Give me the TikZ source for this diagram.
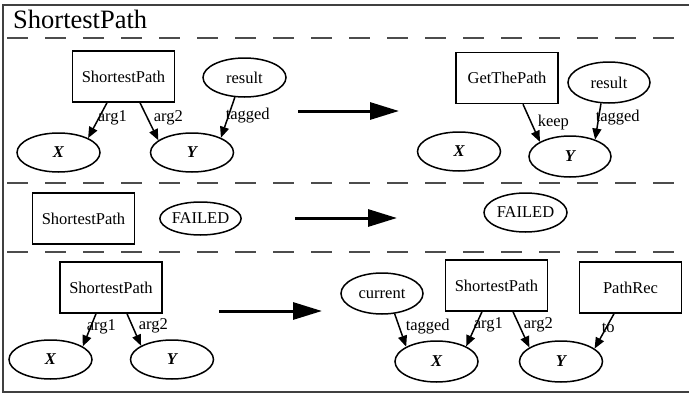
\documentclass[tikz,border=0pt]{standalone}
\usepackage{fontspec}
\setmainfont{Liberation Serif}
\newfontfamily\diagserif{Liberation Serif}
\usetikzlibrary{shapes.geometric,arrows.meta}

\begin{document}
\begin{tikzpicture}[x=1pt,y=-1pt,
  txt/.style={font=\diagserif\fontsize{16.5}{18}\selectfont},
  box/.style={txt, draw, rectangle, line width=1.5pt, minimum width=102pt, minimum height=51pt, inner sep=0pt},
  ell/.style={txt, draw, ellipse, line width=1.5pt, minimum width=83pt, minimum height=39pt, inner sep=0pt},
  var/.style={ell, font=\diagserif\fontsize{16.5}{18}\selectfont\bfseries\itshape},
  edge/.style={line width=1.5pt, -{Triangle[length=11pt,width=9pt]}},
  elabel/.style={txt, anchor=west, inner sep=0pt},
  bigarrow/.style={line width=3pt, -{Triangle[length=29pt,width=17pt]}},
  sep/.style={line width=1.4pt, draw=black!70, dash pattern=on 21pt off 17pt, dash phase=34pt},
  frame/.style={line width=2pt, draw=black!75}]

\useasboundingbox (0,0) rectangle (689,394);

% outer frame (open on the right) and the title
\draw[frame] (689,5) -- (3,5) -- (3,392) -- (689,392);
\node[font=\diagserif\fontsize{26.5}{30}\selectfont, anchor=base west, inner sep=0pt] (title) at (13,28) {ShortestPath};

% section separators
\draw[sep] (3,38) -- (689,38);
\draw[sep] (3,183) -- (689,183);
\draw[sep] (3,252) -- (689,252);

% ---------- rule 1 ----------
\node[box] (sp1) at (123.5,76.5) {ShortestPath};
\node[ell] (res1) at (244.5,77.5) {result};
\node[var] (x1) at (58.5,152.5) {X};
\node[var] (y1) at (192,152.5) {Y};
\draw[edge] ([xshift=-16.5pt]sp1.south) -- (x1.26) node[elabel] at (97,118) {arg1};
\draw[edge] ([xshift=16.5pt]sp1.south) -- (y1.160) node[elabel] at (153,118) {arg2};
\draw[edge] (res1.244) -- (y1.27) node[elabel] at (225,116) {tagged};

\coordinate (a1s) at (298,111);
\coordinate (a1e) at (399,111);
\draw[bigarrow] (a1s) -- (a1e);

\node[box] (gtp) at (507,78) {GetThePath};
\node[ell, minimum width=82pt, minimum height=41pt] (res2) at (609,82.5) {result};
\node[var] (x2) at (459,151.5) {X};
\node[var, minimum width=82pt, minimum height=41pt] (y2) at (570,156.5) {Y};
\draw[edge] ([xshift=16pt]gtp.south) -- (y2.154) node[elabel] at (537,123) {keep};
\draw[edge] (res2.249) -- (y2.34) node[elabel] at (595,118) {tagged};

% ---------- rule 2 ----------
\node[box] (sp2) at (83.5,218.5) {ShortestPath};
\node[ell, minimum width=81pt, minimum height=33pt] (f1) at (200.5,218.5) {FAILED};

\coordinate (a2s) at (295,218);
\coordinate (a2e) at (397,218);
\draw[bigarrow] (a2s) -- (a2e);

\node[ell] (f2) at (525.5,212.5) {FAILED};

% ---------- rule 3 ----------
\node[box] (sp3) at (111,287.5) {ShortestPath};
\node[var] (x3) at (50.5,359.5) {X};
\node[var] (y3) at (172,359.5) {Y};
\draw[edge] ([xshift=-15pt]sp3.south) -- (x3.22) node[elabel] at (86,327) {arg1};
\draw[edge] ([xshift=16pt]sp3.south) -- (y3.156) node[elabel] at (138,326) {arg2};

\coordinate (a3s) at (219,311);
\coordinate (a3e) at (322,311);
\draw[bigarrow] (a3s) -- (a3e);

\node[ell, minimum width=82pt, minimum height=41pt] (cur) at (382,293.5) {current};
\node[box] (sp4) at (496.5,285.5) {ShortestPath};
\node[box] (prec) at (630.5,287.5) {PathRec};
\node[var, minimum height=41pt] (x4) at (436.5,361.5) {X};
\node[var, minimum height=41pt] (y4) at (561,361.5) {Y};
\draw[edge] (cur.302) -- (x4.154) node[elabel] at (405,327) {tagged};
\draw[edge] ([xshift=-14.5pt]sp4.south) -- (x4.27) node[elabel] at (473,325) {arg1};
\draw[edge] ([xshift=16.5pt]sp4.south) -- (y4.156) node[elabel] at (523,325) {arg2};
\draw[edge] ([xshift=-16.5pt]prec.south) -- (y4.21) node[elabel] at (601,328) {to};

\end{tikzpicture}
\end{document}
